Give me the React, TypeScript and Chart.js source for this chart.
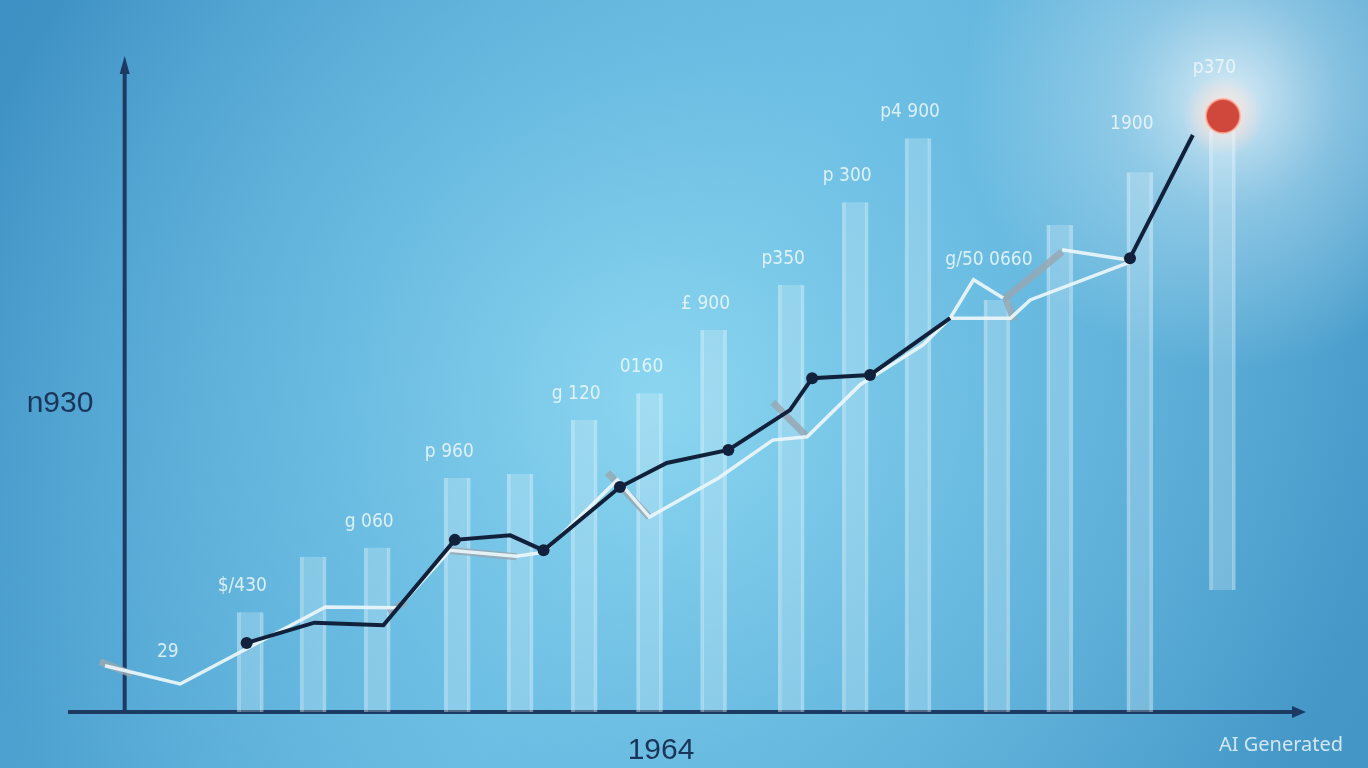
import React, { useEffect, useRef } from "react";
import { Chart, registerables } from "chart.js";

Chart.register(...registerables);

// bars (x position on a 0-100 axis, value on a 0-1000 axis)
const barX = [14.8, 19.9, 25.1, 31.6, 36.7, 41.9, 47.2, 52.4, 58.7, 63.9, 69.0, 75.4, 80.5, 87.0, 93.7];
const barValues: (number | [number, number])[] = [
  153, 238, 252, 359, 365, 448, 489, 586, 655, 782, 880, 632, 747, 828, [187, 893],
];
const barLabels = [
  "$/430", "", "g 060", "p 960", "", "g 120", "0160", "£ 900", "p350", "p 300", "p4 900", "g/50 0660", "", "1900", "p370",
];

// dark trend line (null = break)
const darkX = [14.5, 20.0, 25.6, 31.4, 35.9, 38.6, 44.8, 48.6, 53.6, 58.6, 60.4, 65.1, 71.6, 78.0, 86.2, 91.3];
const darkY: (number | null)[] = [106, 137, 133, 264, 271, 248, 345, 382, 402, 463, 512, 517, 604, null, 696, 885];

// white trend line, three pieces
const whiteX = [
  3.0, 9.1, 20.9, 26.8, 31.0, 36.4, 38.6, 44.6, 47.2, 52.8, 57.2, 60.0, 64.3, 69.4, 71.6, 73.5, 75.9,
  75.9, 71.6, 76.5, 78.1, 86.2,
  86.2, 80.7, 86.2,
];
const whiteY: (number | null)[] = [
  71, 43, 161, 160, 248, 239, 245, 356, 299, 359, 417, 422, 502, 563, 604, 663, 635,
  null, 604, 604, 632, 690,
  null, 709, 693,
];

// grey marker segments (null breaks the line)
const greyX = [2.6, 5.2, 5.2, 26.0, 27.4, 27.4, 30.8, 36.4, 36.4, 43.8, 47.2, 47.2, 57.2, 60.0, 60.0, 75.9, 80.7, 80.7, 76.0, 76.8];
const greyY: (number | null)[] = [77, 58, null, 153, 169, null, 248, 238, null, 367, 299, null, 475, 422, null, 632, 706, null, 640, 601];

// highlighted end point
const peakX = [93.75];
const peakY = [914];

// loose note
const noteX = [8.1];
const noteY = [92];
const noteText = ["29"];

const yAxisAt = 4.6;

const backdrop = {
  id: "backdrop",
  beforeDraw(chart: Chart) {
    const { ctx, width, height } = chart;
    ctx.save();
    const base = ctx.createLinearGradient(0, 0, width, height);
    base.addColorStop(0, "#3d90c3");
    base.addColorStop(0.5, "#5fb3dc");
    base.addColorStop(1, "#4295c5");
    ctx.fillStyle = base;
    ctx.fillRect(0, 0, width, height);
    const mid = ctx.createRadialGradient(660, 400, 20, 660, 400, 720);
    mid.addColorStop(0, "rgba(140,214,240,0.95)");
    mid.addColorStop(0.5, "rgba(120,200,234,0.55)");
    mid.addColorStop(1, "rgba(120,200,234,0)");
    ctx.fillStyle = mid;
    ctx.fillRect(0, 0, width, height);
    const glow = ctx.createRadialGradient(1230, 100, 5, 1230, 100, 270);
    glow.addColorStop(0, "rgba(235,245,250,0.85)");
    glow.addColorStop(0.4, "rgba(200,230,245,0.45)");
    glow.addColorStop(1, "rgba(200,230,245,0)");
    ctx.fillStyle = glow;
    ctx.fillRect(0, 0, width, height);
    ctx.restore();
  },
};

const decorations = {
  id: "decorations",
  beforeDatasetsDraw(chart: Chart) {
    const { ctx, chartArea, scales } = chart;
    const x = scales.x;
    const y = scales.y;
    ctx.save();
    ctx.strokeStyle = "#1d3a62";
    ctx.fillStyle = "#1d3a62";
    ctx.lineWidth = 4;
    // y axis
    const ax = x.getPixelForValue(yAxisAt);
    ctx.beginPath();
    ctx.moveTo(ax, chartArea.bottom);
    ctx.lineTo(ax, chartArea.top + 8);
    ctx.stroke();
    ctx.beginPath();
    ctx.moveTo(ax, chartArea.top - 4);
    ctx.lineTo(ax - 5, chartArea.top + 14);
    ctx.lineTo(ax + 5, chartArea.top + 14);
    ctx.closePath();
    ctx.fill();
    // x axis
    ctx.beginPath();
    ctx.moveTo(chartArea.left, chartArea.bottom);
    ctx.lineTo(chartArea.right - 4, chartArea.bottom);
    ctx.stroke();
    ctx.beginPath();
    ctx.moveTo(chartArea.right + 6, chartArea.bottom);
    ctx.lineTo(chartArea.right - 8, chartArea.bottom - 6);
    ctx.lineTo(chartArea.right - 8, chartArea.bottom + 6);
    ctx.closePath();
    ctx.fill();
    // soft halo around the peak point
    const px = x.getPixelForValue(peakX[0]);
    const py = y.getPixelForValue(peakY[0]);
    const g = ctx.createRadialGradient(px, py, 12, px, py, 40);
    g.addColorStop(0, "rgba(255,225,215,0.75)");
    g.addColorStop(1, "rgba(255,225,215,0)");
    ctx.fillStyle = g;
    ctx.beginPath();
    ctx.arc(px, py, 40, 0, Math.PI * 2);
    ctx.fill();
    ctx.restore();
  },
  afterDatasetsDraw(chart: Chart) {
    const { ctx, scales } = chart;
    const x = scales.x;
    const y = scales.y;
    ctx.save();
    ctx.textAlign = "center";
    ctx.textBaseline = "middle";
    ctx.font = "19px 'DejaVu Sans Condensed', 'DejaVu Sans', sans-serif";
    ctx.fillStyle = "rgba(240,248,252,0.85)";
    barLabels.forEach((label, i) => {
      if (!label) return;
      const v = barValues[i];
      const top = Array.isArray(v) ? v[1] : v;
      const lift = Array.isArray(v) ? 62 : i === barLabels.length - 2 ? 48 : i === 11 ? 40 : 26;
      ctx.fillText(label, x.getPixelForValue(barX[i]) - 8, y.getPixelForValue(top) - lift);
    });
    noteText.forEach((t, i) => {
      ctx.fillText(t, x.getPixelForValue(noteX[i]), y.getPixelForValue(noteY[i]));
    });
    // axis captions
    ctx.fillStyle = "#1b3459";
    ctx.font = "30px 'Liberation Sans', Arial, sans-serif";
    ctx.fillText("n930", 60, 404);
    ctx.fillText("1964", 661, 751);
    ctx.fillStyle = "rgba(235,245,250,0.85)";
    ctx.font = "20px 'Noto Sans', sans-serif";
    ctx.fillText("AI Generated", 1281, 745);
    ctx.restore();
  },
};

const dotted = new Set([0, 3, 5, 6, 8, 10, 11, 14]);

const App: React.FC = () => {
  const canvasRef = useRef<HTMLCanvasElement>(null);
  const chartRef = useRef<Chart | null>(null);

  useEffect(() => {
    if (!canvasRef.current) return;
    if (chartRef.current) chartRef.current.destroy();

    chartRef.current = new Chart(canvasRef.current, {
      type: "bar",
      data: {
        datasets: [
          {
            type: "bar",
            data: barX.map((xv, i) => ({ x: xv, y: barValues[i] })) as any,
            backgroundColor: "rgba(225,243,252,0.26)",
            borderColor: "rgba(240,250,255,0.4)",
            borderWidth: { left: 3, right: 3, top: 0, bottom: 0 } as any,
            borderSkipped: false,
            barThickness: 26,
            order: 5,
          },
          {
            type: "line",
            data: greyX.map((xv, i) => ({ x: xv, y: greyY[i] })) as any,
            borderColor: "rgba(150,168,180,0.85)",
            borderWidth: 7,
            pointRadius: 0,
            spanGaps: false,
            order: 4,
          },
          {
            type: "line",
            data: whiteX.map((xv, i) => ({ x: xv, y: whiteY[i] })) as any,
            borderColor: "rgba(236,246,250,0.92)",
            borderWidth: 3.5,
            pointRadius: 0,
            spanGaps: false,
            tension: 0,
            order: 3,
          },
          {
            type: "line",
            data: darkX.map((xv, i) => ({ x: xv, y: darkY[i] })) as any,
            borderColor: "#12213b",
            borderWidth: 4,
            pointRadius: (c: any) => (dotted.has(c.dataIndex) ? 6 : 0),
            pointBackgroundColor: "#12213b",
            pointBorderWidth: 0,
            spanGaps: false,
            tension: 0,
            order: 2,
          },
          {
            type: "line",
            data: peakX.map((xv, i) => ({ x: xv, y: peakY[i] })) as any,
            pointRadius: 17,
            pointBackgroundColor: "#d0473b",
            pointBorderColor: "rgba(255,170,150,0.7)",
            pointBorderWidth: 2,
            showLine: false,
            order: 1,
          },
        ],
      },
      options: {
        animation: false,
        responsive: true,
        maintainAspectRatio: false,
        layout: { padding: { left: 68, right: 68, top: 60, bottom: 56 } },
        scales: {
          x: { type: "linear", min: 0, max: 100, display: false, offset: false },
          y: { type: "linear", min: 0, max: 1000, display: false },
        },
        plugins: {
          legend: { display: false },
          tooltip: { enabled: false },
        },
      },
      plugins: [backdrop, decorations],
    });

    return () => {
      if (chartRef.current) {
        chartRef.current.destroy();
        chartRef.current = null;
      }
    };
  }, []);

  return (
    <div style={{ position: "fixed", inset: 0, width: "100vw", height: "100vh" }}>
      <canvas ref={canvasRef} />
    </div>
  );
};

export default App;
